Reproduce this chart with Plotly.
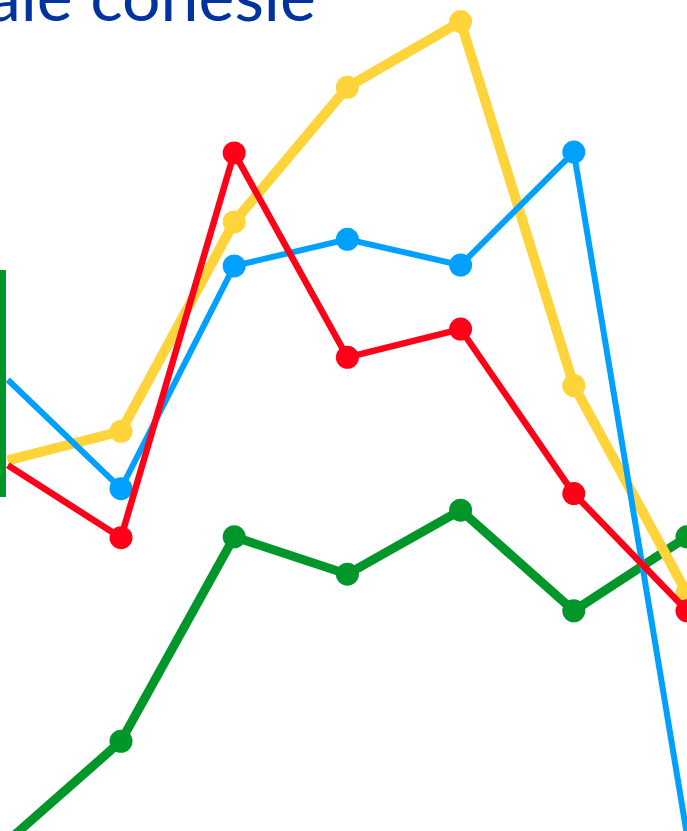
import plotly.graph_objects as go

periods = [1, 2, 3, 4, 5, 6, 7]
yellow = [44.6, 48.1, 73.3, 89.5, 97.4, 53.6, 28.6]
blue = [54.3, 41.2, 68.0, 71.2, 68.1, 81.7, -0.5]
red = [44.0, 35.3, 81.6, 57.0, 60.4, 40.6, 26.5]
green = [-1.2, 10.8, 35.4, 30.9, 38.6, 26.5, 35.4]

title_text = "ale conesle"

fig = go.Figure()
series = [
    ("green", green, "#00962a", 9),
    ("yellow", yellow, "#ffd43b", 10),
    ("blue", blue, "#00a0ff", 6),
    ("red", red, "#ff0018", 6.5),
]
for name, vals, col, w in series:
    sizes = [0] + [23] * (len(vals) - 1)
    fig.add_trace(go.Scatter(
        x=periods, y=vals, mode="lines+markers", name=name,
        line=dict(color=col, width=w),
        marker=dict(color=col, size=sizes, opacity=1, line=dict(width=0)),
        cliponaxis=False, showlegend=False,
    ))

fig.add_shape(type="rect", xref="paper", yref="paper",
              x0=0, x1=6/687, y0=1-497/831, y1=1-270/831,
              fillcolor="#00962a", line=dict(width=0), layer="above")

fig.add_annotation(text=title_text, xref="paper", yref="paper",
                   x=0, y=1 - 24/831, xanchor="left", yanchor="bottom",
                   xshift=-15, yshift=-13, showarrow=False,
                   font=dict(family="Lato", size=68, color="#0033a0"))

fig.update_layout(
    width=687, height=831, margin=dict(l=0, r=0, t=0, b=0),
    paper_bgcolor="white", plot_bgcolor="white",
    xaxis=dict(range=[0.9311, 7.0], visible=False, fixedrange=True),
    yaxis=dict(range=[0, 100], visible=False, fixedrange=True),
)
fig.write_html("out.html")
